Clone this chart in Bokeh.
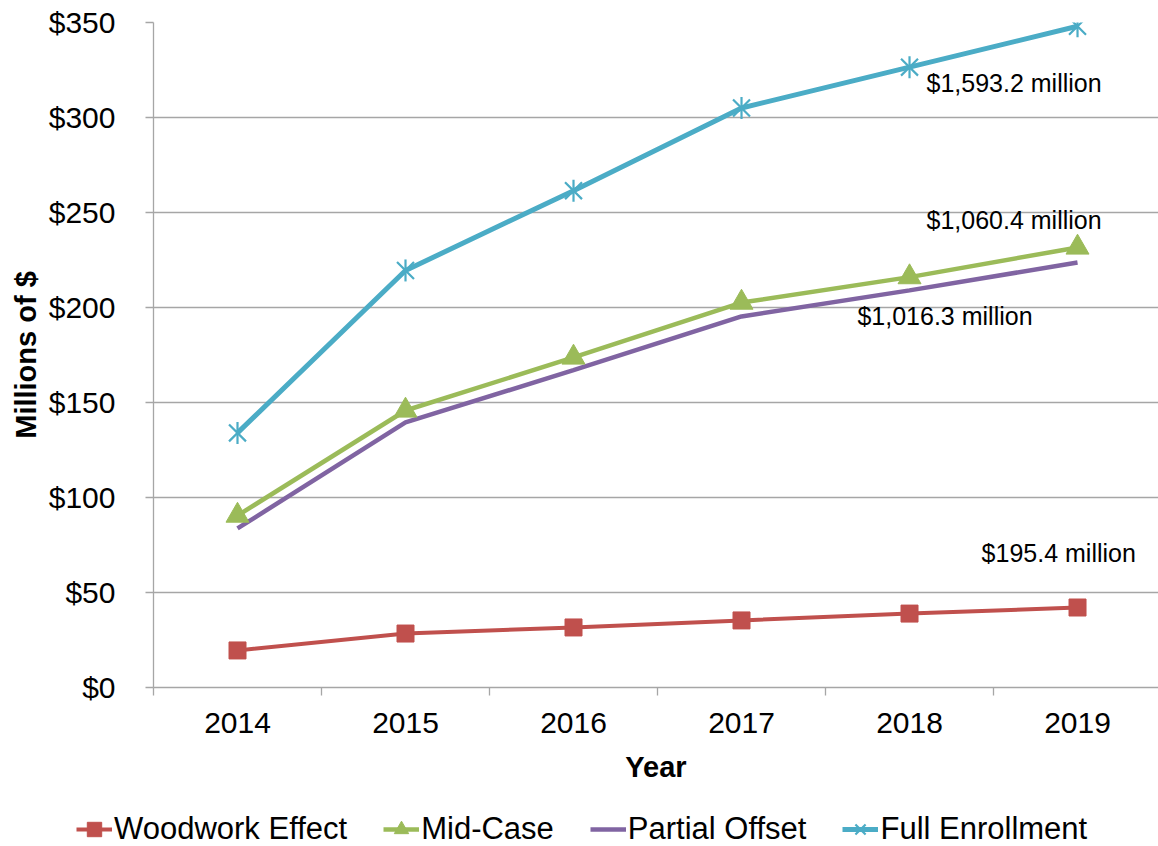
from math import pi
from bokeh.plotting import figure
from bokeh.layouts import column
from bokeh.models import (Range1d, FixedTicker, Legend, LegendItem, Label,
                          NumeralTickFormatter)
from bokeh.embed import file_html
from bokeh.resources import INLINE

# ---- data ----
years = ["2014", "2015", "2016", "2017", "2018", "2019"]
woodwork_effect = [19.5, 28.4, 31.6, 35.3, 38.9, 42.1]
mid_case = [90.5, 145.8, 173.7, 202.6, 216.0, 231.6]
partial_offset = [83.7, 139.5, 167.0, 195.3, 209.0, 223.7]
full_enrollment = [134.0, 219.5, 261.5, 305.0, 326.5, 348.0]
y_ticks = [0, 50, 100, 150, 200, 250, 300, 350]
series_names = ["Woodwork Effect", "Mid-Case", "Partial Offset", "Full Enrollment"]
totals = ["$1,593.2 million", "$1,060.4 million", "$1,016.3 million", "$195.4 million"]

xs = [i + 0.5 for i in range(len(years))]
series = [woodwork_effect, mid_case, partial_offset, full_enrollment]

FONT = "Liberation Sans"
GRAY = "#A6A6A6"
RED, GREEN, PURPLE, BLUE = "#C0504D", "#9BBB59", "#8064A2", "#4BACC6"

p = figure(width=1158, height=796, output_backend="svg", toolbar_location=None,
           x_range=Range1d(0, 5.982), y_range=Range1d(0, 350),
           min_border_left=153, min_border_right=0, min_border_top=22,
           min_border_bottom=109)
p.frame_align = False
p.outline_line_color = None
p.background_fill_color = "white"
p.border_fill_color = "white"

p.xgrid.grid_line_color = None
p.ygrid.grid_line_color = GRAY
p.ygrid.grid_line_width = 1.3

# y axis
ya = p.yaxis[0]
ya.ticker = FixedTicker(ticks=y_ticks)
ya.formatter = NumeralTickFormatter(format="$0")
ya.axis_line_color = GRAY
ya.axis_line_width = 1.3
ya.major_tick_line_color = GRAY
ya.major_tick_line_width = 1.3
ya.major_tick_out = 8
ya.major_tick_in = 0
ya.minor_tick_line_color = None
ya.major_label_standoff = 30
ya.major_label_text_font = FONT
ya.major_label_text_font_size = "30px"
ya.major_label_text_color = "black"
ya.axis_label = "Millions of $"
ya.axis_label_text_font = FONT
ya.axis_label_text_font_size = "29px"
ya.axis_label_text_font_style = "bold"
ya.axis_label_text_color = "black"
ya.axis_label_standoff = 4

# x axis
xa = p.xaxis[0]
xa.ticker = FixedTicker(ticks=xs, minor_ticks=list(range(len(years) + 1)))
xa.major_label_overrides = {x: y for x, y in zip(xs, years)}
xa.axis_line_color = GRAY
xa.axis_line_width = 1.3
xa.major_tick_line_color = None
xa.major_tick_out = 8
xa.major_tick_in = 0
xa.minor_tick_line_color = GRAY
xa.minor_tick_line_width = 1.3
xa.minor_tick_out = 8
xa.minor_tick_in = 0
xa.major_label_standoff = 17
xa.major_label_text_font = FONT
xa.major_label_text_font_size = "30px"
xa.major_label_text_color = "black"
xa.axis_label = "Year"
xa.axis_label_text_font = FONT
xa.axis_label_text_font_size = "29px"
xa.axis_label_text_font_style = "bold"
xa.axis_label_text_color = "black"
xa.axis_label_standoff = 15


def draw_series(fig, x, y):
    """Draws the four series on fig; returns renderers per series."""
    w = [fig.line(x, y[0], line_color=RED, line_width=4),
         fig.scatter(x, y[0], marker="square", size=17, fill_color=RED, line_color=RED)]
    po = [fig.line(x, y[2], line_color=PURPLE, line_width=4.5)]
    m = [fig.line(x, y[1], line_color=GREEN, line_width=4.5),
         fig.scatter(x, y[1], marker="triangle", size=23, fill_color=GREEN, line_color=GREEN)]
    f = [fig.line(x, y[3], line_color=BLUE, line_width=5),
         fig.scatter(x, y[3], marker="x", size=24, line_color=BLUE, line_width=2.2),
         fig.scatter(x, y[3], marker="dash", size=22, angle=pi / 2,
                     line_color=BLUE, line_width=2.2)]
    return [w, m, po, f]


draw_series(p, xs, series)

# total annotations
ann_pos = [(4.601, 318.4), (4.601, 245.8), (4.19, 195.3), (4.929, 71.0)]
for txt, (ax, ay) in zip(totals, ann_pos):
    p.add_layout(Label(x=ax, y=ay, text=txt, text_font=FONT,
                       text_font_size="25px", text_color="black",
                       text_align="left", text_baseline="middle"))

# legend strip below the chart (its ranges keep the series out of view)
lg = figure(width=1158, height=50, output_backend="svg", toolbar_location=None,
            x_range=Range1d(0, 1), y_range=Range1d(-2, -1),
            x_axis_location=None, y_axis_location=None, min_border=0)
lg.frame_align = False
lg.outline_line_color = None
lg.grid.grid_line_color = None
lg_r = draw_series(lg, xs, series)

legend = Legend(items=[LegendItem(label=n, renderers=r)
                       for n, r in zip(series_names, lg_r)],
                orientation="horizontal", location=(76, -3))
legend.border_line_color = None
legend.background_fill_alpha = 0
legend.padding = 0
legend.margin = 0
legend.spacing = 36
legend.glyph_width = 36
legend.glyph_height = 40
legend.label_height = 40
legend.label_standoff = 2
legend.label_text_font = FONT
legend.label_text_font_size = "31px"
legend.label_text_color = "black"
legend.label_text_baseline = "middle"
lg.add_layout(legend, "center")

layout = column(p, lg, spacing=0)
open("out.html", "w").write(file_html(layout, INLINE))
